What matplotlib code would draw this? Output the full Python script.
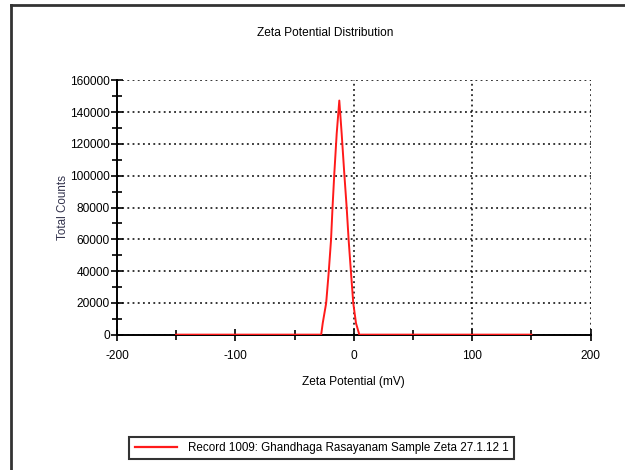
import matplotlib.pyplot as plt
from matplotlib.lines import Line2D
from matplotlib.ticker import MultipleLocator, FixedLocator

# zeta potential distribution (mV vs total counts)
zeta_mv = [-150, -27.5, -26.2, -23.3, -21.2, -19.2, -17.9, -16.4, -14.4, -12.2,
           -10.2, -8.0, -6.0, -4.3, -2.3, -0.4, 1.9, 4.7, 150]
counts = [0, 0, 7200, 19800, 38700, 59400, 80300, 101500, 126500, 147300,
          126500, 101500, 80300, 59400, 38700, 19800, 7200, 0, 0]

x_ticks = [-200, -100, 0, 100, 200]
y_ticks = [0, 20000, 40000, 60000, 80000, 100000, 120000, 140000, 160000]
x_grid = [0, 100, 200]
legend_label = "Record 1009: Ghandhaga Rasayanam Sample Zeta 27.1.12 1"

plt.rcParams['font.family'] = ['Liberation Sans Narrow', 'Liberation Sans', 'DejaVu Sans']
plt.rcParams['axes.unicode_minus'] = False

fig = plt.figure(figsize=(6.25, 4.7), dpi=100)
ax = fig.add_axes([0.187, 0.288, 0.758, 0.541])

ax.plot(zeta_mv, counts, color='#ff1a1a', lw=1.4, zorder=3)

ax.set_xlim(-200, 200)
ax.set_ylim(0, 160000)
ax.xaxis.set_major_locator(FixedLocator(x_ticks))
ax.yaxis.set_major_locator(FixedLocator(y_ticks))
ax.xaxis.set_minor_locator(MultipleLocator(50))
ax.yaxis.set_minor_locator(MultipleLocator(10000))
ax.set_yticklabels([str(v) for v in y_ticks])

# dotted grid: every horizontal major, vertical only from 0 upward
grid_style = dict(color='black', linestyle=(0, (1.2, 2.2)), lw=1.1)
ax.grid(True, axis='y', which='major', **grid_style)
for gx in x_grid:
    ax.axvline(gx, zorder=1, **grid_style)
ax.set_axisbelow(True)

for side in ['top', 'right']:
    ax.spines[side].set_visible(False)
for side in ['left', 'bottom']:
    ax.spines[side].set_linewidth(1.4)

ax.tick_params(which='both', direction='inout', width=1.2, labelsize=8.6)
ax.tick_params(which='major', length=8)
ax.tick_params(which='minor', length=7)
ax.tick_params(axis='x', pad=7)
ax.tick_params(axis='y', pad=1)

ax.set_xlabel("Zeta Potential (mV)", fontsize=8.6, labelpad=10)
ax.set_ylabel("Total Counts", fontsize=8.4, labelpad=1, color='#33334d')
fig.text(0.52, 0.93, "Zeta Potential Distribution", ha='center', va='center', fontsize=8.6)

# outer frame around the report panel
fig.add_artist(Line2D([11 / 625, 1.0], [1 - 5 / 470] * 2, transform=fig.transFigure,
                      color='#333333', lw=2))
fig.add_artist(Line2D([11 / 625] * 2, [0, 1 - 5 / 470], transform=fig.transFigure,
                      color='#333333', lw=2))

handle = Line2D([], [], color='#ff1a1a', lw=1.6)
leg = fig.legend([handle], [legend_label], loc='center', bbox_to_anchor=(0.515, 0.047),
                 fontsize=8.4, frameon=True, fancybox=False, handlelength=3.6,
                 borderpad=0.45, handletextpad=1.0, borderaxespad=0)
leg.get_frame().set_edgecolor('black')
leg.get_frame().set_linewidth(1.5)

fig.savefig("out.png", dpi=100)
